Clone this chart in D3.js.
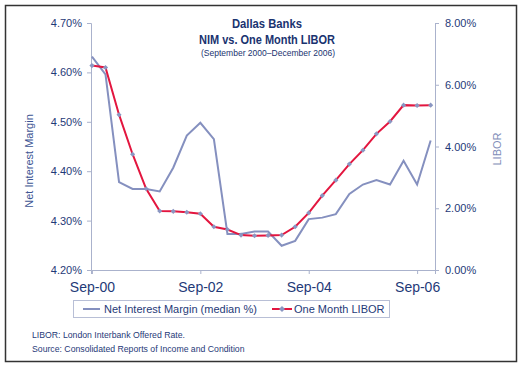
<!DOCTYPE html>
<meta charset="utf-8">
<style>
  body { margin: 0; background: #fff; }
  text { font-family: "Liberation Sans", Arial, sans-serif; }
</style>
<div id="chart"></div>
<script src="https://d3js.org/d3.v7.min.js"></script>
<script>

// quarterly, Sep 2000 .. Dec 2006
var quarters = ["Sep-00","Dec-00","Mar-01","Jun-01","Sep-01","Dec-01","Mar-02","Jun-02","Sep-02","Dec-02",
                "Mar-03","Jun-03","Sep-03","Dec-03","Mar-04","Jun-04","Sep-04","Dec-04","Mar-05","Jun-05",
                "Sep-05","Dec-05","Mar-06","Jun-06","Sep-06","Dec-06"];
var nim = [4.632, 4.596, 4.378, 4.364, 4.364, 4.359, 4.407, 4.472, 4.498, 4.465,
           4.273, 4.273, 4.278, 4.278, 4.249, 4.259, 4.303, 4.306, 4.313, 4.354,
           4.373, 4.382, 4.373, 4.421, 4.373, 4.462];
var libor = [6.62, 6.56, 5.03, 3.75, 2.63, 1.91, 1.90, 1.87, 1.82, 1.40,
             1.31, 1.13, 1.11, 1.12, 1.13, 1.40, 1.85, 2.41, 2.91, 3.43,
             3.88, 4.41, 4.81, 5.34, 5.33, 5.34];
var leftTicks = [4.2, 4.3, 4.4, 4.5, 4.6, 4.7];
var rightTicks = [0, 2, 4, 6, 8];
var xTickLabels = ["Sep-00", "Sep-02", "Sep-04", "Sep-06"];

var W = 524, H = 367;
var navy = "#1f3a78", axisCol = "#aab2cc";

var svg = d3.select("#chart").append("svg")
    .attr("width", W)
    .attr("height", H);

svg.append("rect")
    .attr("x", 5.5).attr("y", 5.5)
    .attr("width", 511).attr("height", 356)
    .attr("fill", "#fff")
    .attr("stroke", "#333")
    .attr("stroke-width", 1.5);

var x = d3.scaleLinear().domain([-0.07, 25.32]).range([91, 435]);
var yL = d3.scaleLinear().domain([4.2, 4.7]).range([270, 23]);
var yR = d3.scaleLinear().domain([0, 8]).range([270, 23]);

// axes
var gl = svg.append("g").attr("transform", "translate(91,0)")
    .call(d3.axisLeft(yL).tickValues(leftTicks).tickSize(4).tickPadding(5)
      .tickFormat(function(d) { return d.toFixed(2) + "%"; }));
var gr = svg.append("g").attr("transform", "translate(435,0)")
    .call(d3.axisRight(yR).tickValues(rightTicks).tickSize(4).tickPadding(6)
      .tickFormat(function(d) { return d.toFixed(2) + "%"; }));
var gx = svg.append("g").attr("transform", "translate(0,270)")
    .call(d3.axisBottom(x).tickValues([0, 8, 16, 24]).tickSize(4).tickPadding(8)
      .tickFormat(function(d, i) { return xTickLabels[i]; }));

[gl, gr, gx].forEach(function(g) {
  g.select(".domain").attr("stroke", axisCol);
  g.selectAll(".tick line").attr("stroke", axisCol);
  g.selectAll("text").attr("fill", navy).attr("font-family", "Liberation Sans, Arial, sans-serif");
});
gl.selectAll("text").attr("font-size", 11);
gr.selectAll("text").attr("font-size", 11);
gx.selectAll("text").attr("font-size", 14);

// axis titles
svg.append("text")
    .attr("transform", "translate(33,161) rotate(-90)")
    .attr("text-anchor", "middle")
    .attr("font-size", 11)
    .attr("fill", "#3d5594")
    .text("Net Interest Margin");
svg.append("text")
    .attr("transform", "translate(501,149) rotate(-90)")
    .attr("text-anchor", "middle")
    .attr("font-size", 11)
    .attr("fill", "#7f8db8")
    .text("LIBOR");

// lines
var nimLine = d3.line().x(function(d, i) { return x(i); }).y(function(d) { return yL(d); });
var liborLine = d3.line().x(function(d, i) { return x(i); }).y(function(d) { return yR(d); });

svg.append("path")
    .datum(nim)
    .attr("d", nimLine)
    .attr("fill", "none")
    .attr("stroke", "#8590bf")
    .attr("stroke-width", 2);

svg.append("path")
    .datum(libor)
    .attr("d", liborLine)
    .attr("fill", "none")
    .attr("stroke", "#e3163f")
    .attr("stroke-width", 2);

var marker = d3.symbol().type(d3.symbolSquare).size(13);

svg.append("g").selectAll("path")
    .data(libor)
    .enter().append("path")
    .attr("transform", function(d, i) { return "translate(" + x(i) + "," + yR(d) + ") rotate(45)"; })
    .attr("d", marker)
    .attr("fill", "#8a96c2");

// title
var title = svg.append("g").attr("text-anchor", "middle").attr("fill", "#1a3370");
title.append("text").attr("x", 267).attr("y", 28)
    .attr("font-size", 13).attr("font-weight", "bold")
    .attr("textLength", 70).attr("lengthAdjust", "spacingAndGlyphs")
    .text("Dallas Banks");
title.append("text").attr("x", 267).attr("y", 44)
    .attr("font-size", 13).attr("font-weight", "bold")
    .attr("textLength", 136).attr("lengthAdjust", "spacingAndGlyphs")
    .text("NIM vs. One Month LIBOR");
title.append("text").attr("x", 268).attr("y", 56)
    .attr("font-size", 8.5)
    .attr("textLength", 134).attr("lengthAdjust", "spacingAndGlyphs")
    .text("(September 2000–December 2006)");

// legend
var lg = svg.append("g");
lg.append("rect")
    .attr("x", 73.5).attr("y", 300.5)
    .attr("width", 316).attr("height", 17)
    .attr("fill", "#fff")
    .attr("stroke", "#b8bfd6");
lg.append("line")
    .attr("x1", 83).attr("x2", 100).attr("y1", 309).attr("y2", 309)
    .attr("stroke", "#8590bf").attr("stroke-width", 2);
lg.append("text").attr("x", 104).attr("y", 313)
    .attr("font-size", 11).attr("fill", navy)
    .text("Net Interest Margin (median %)");
lg.append("line")
    .attr("x1", 272).attr("x2", 292).attr("y1", 309).attr("y2", 309)
    .attr("stroke", "#e3163f").attr("stroke-width", 2);
lg.append("path")
    .attr("transform", "translate(282,309) rotate(45)")
    .attr("d", d3.symbol().type(d3.symbolSquare).size(18))
    .attr("fill", "#8a96c2");
lg.append("text").attr("x", 294).attr("y", 313)
    .attr("font-size", 11).attr("fill", navy)
    .text("One Month LIBOR");

// notes
svg.append("text").attr("x", 32).attr("y", 338)
    .attr("font-size", 8.7).attr("fill", navy)
    .text("LIBOR: London Interbank Offered Rate.");
svg.append("text").attr("x", 32).attr("y", 352)
    .attr("font-size", 8.7).attr("fill", navy)
    .text("Source: Consolidated Reports of Income and Condition");

</script>
